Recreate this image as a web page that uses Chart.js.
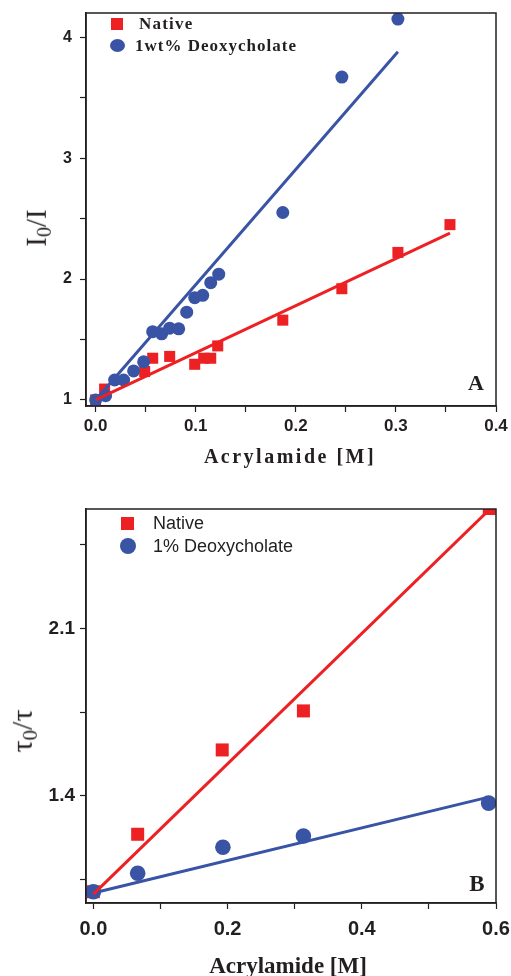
<!DOCTYPE html>
<html>
<head>
<meta charset="utf-8">
<script src="https://cdn.jsdelivr.net/npm/chart.js@4.4.0/dist/chart.umd.min.js"></script>
<style>
  html, body { margin: 0; padding: 0; background: #fff; }
  #wrap { position: relative; width: 511px; height: 976px; overflow: hidden; }
  canvas { position: absolute; left: 0; }
  .txt { position: absolute; white-space: nowrap; line-height: 1; color: #231f20; }
  .c { transform: translate(-50%, -50%); }
  .rot { transform: translate(-50%, -50%) rotate(-90deg); }
  .serif { font-family: "Liberation Serif", "DejaVu Serif", serif; }
  .sans { font-family: "Liberation Sans", Arial, sans-serif; }
  .mk { position: absolute; }
  sub { font-size: 70%; vertical-align: -0.25em; }
</style>
</head>
<body>
<div id="wrap">
  <canvas id="chartA" width="511" height="490" style="top:0"></canvas>
  <canvas id="chartB" width="511" height="486" style="top:490px"></canvas>

  <!-- panel A texts -->
  <div class="mk" style="left:111px;top:18px;width:12px;height:12px;background:#ed2024"></div>
  <div class="txt serif" style="left:139px;top:15px;font-size:17px;font-weight:bold;letter-spacing:1.2px">Native</div>
  <div class="mk" style="left:110px;top:39px;width:15px;height:13px;border-radius:50%;background:#3953a5"></div>
  <div class="txt serif" style="left:135px;top:37px;font-size:17px;font-weight:bold;letter-spacing:1px">1wt% Deoxycholate</div>
  <div class="txt serif rot" style="left:38px;top:228px;font-size:29px">I<sub>0</sub>/I</div>
  <div class="txt serif c" style="left:290px;top:456px;font-size:20px;font-weight:bold;letter-spacing:2.5px">Acrylamide [M]</div>
  <div class="txt serif c" style="left:476px;top:383px;font-size:22px;font-weight:bold">A</div>

  <!-- panel B texts -->
  <div class="mk" style="left:121px;top:517px;width:13px;height:13px;background:#ed2024"></div>
  <div class="txt sans" style="left:153px;top:514px;font-size:18px">Native</div>
  <div class="mk" style="left:120px;top:538px;width:16px;height:16px;border-radius:50%;background:#3953a5"></div>
  <div class="txt sans" style="left:153px;top:537px;font-size:18px">1% Deoxycholate</div>
  <div class="txt serif rot" style="left:24px;top:731px;font-size:30px">&tau;<sub>0</sub>/&tau;</div>
  <div class="txt serif c" style="left:288px;top:965px;font-size:23px;font-weight:bold">Acrylamide [M]</div>
  <div class="txt serif c" style="left:477px;top:883px;font-size:23px;font-weight:bold">B</div>
</div>

<script>
// ---- Panel A: I0/I vs acrylamide ----
const nativeXA = [0, 0.009, 0.049, 0.057, 0.074, 0.099, 0.108, 0.115, 0.122, 0.187, 0.246, 0.302, 0.354];
const nativeYA = [1.0, 1.09, 1.235, 1.345, 1.36, 1.295, 1.345, 1.345, 1.447, 1.66, 1.92, 2.22, 2.45];
const deoxyXA = [0, 0.01, 0.019, 0.028, 0.038, 0.048, 0.057, 0.066, 0.074, 0.083, 0.091, 0.099, 0.107, 0.115, 0.123, 0.187, 0.246, 0.302];
const deoxyYA = [1.0, 1.035, 1.165, 1.165, 1.24, 1.315, 1.565, 1.547, 1.594, 1.588, 1.726, 1.846, 1.865, 1.97, 2.04, 2.55, 3.67, 4.15];
const nativeFitXA = [0, 0.354];
const nativeFitYA = [1.0, 2.38];
const deoxyFitXA = [0, 0.302];
const deoxyFitYA = [1.0, 3.88];
const xTicksA = [0, 0.05, 0.1, 0.15, 0.2, 0.25, 0.3, 0.35, 0.4];
const xLabelsA = ['0.0', '', '0.1', '', '0.2', '', '0.3', '', '0.4'];
const yTicksA = [1, 1.5, 2, 2.5, 3, 3.5, 4];
const yLabelsA = ['1', '', '2', '', '3', '', '4'];

// ---- Panel B: tau0/tau vs acrylamide ----
const nativeXB = [0, 0.066, 0.192, 0.313, 0.59];
const nativeYB = [1.0, 1.24, 1.592, 1.755, 2.6];
const deoxyXB = [0, 0.066, 0.193, 0.313, 0.589];
const deoxyYB = [1.0, 1.077, 1.186, 1.233, 1.37];
const nativeFitXB = [0, 0.59];
const nativeFitYB = [0.99, 2.595];
const deoxyFitXB = [0, 0.589];
const deoxyFitYB = [0.995, 1.395];
const xTicksB = [0, 0.1, 0.2, 0.3, 0.4, 0.5, 0.6];
const xLabelsB = ['0.0', '', '0.2', '', '0.4', '', '0.6'];
const yTicksB = [1.05, 1.4, 1.75, 2.1, 2.45];
const yLabelsB = ['', '1.4', '', '2.1', ''];

const RED = '#ed2024';
const BLUE = '#3953a5';
const AXIS = '#231f20';

function pts(xs, ys) {
  return xs.map((x, i) => ({ x: x, y: ys[i] }));
}

// box around the plot area
const framePlugin = {
  id: 'frame',
  afterDraw(chart) {
    const a = chart.chartArea;
    const ctx = chart.ctx;
    ctx.save();
    ctx.strokeStyle = AXIS;
    ctx.lineWidth = 1.5;
    ctx.strokeRect(a.left, a.top, a.right - a.left, a.bottom - a.top);
    ctx.restore();
  }
};

function axis(min, max, tickVals, tickLabels, fontSize, pad, fitSize, horizontal) {
  return {
    type: 'linear',
    min: min,
    max: max,
    afterBuildTicks: scale => { scale.ticks = tickVals.map(v => ({ value: v })); },
    afterFit: scale => {
      if (horizontal) { scale.height = fitSize; scale.paddingLeft = 0; scale.paddingRight = 0; }
      else { scale.width = fitSize; scale.paddingTop = 0; scale.paddingBottom = 0; }
    },
    ticks: {
      autoSkip: false,
      maxRotation: 0,
      padding: pad,
      color: AXIS,
      font: { family: '"Liberation Sans", Arial, sans-serif', size: fontSize, weight: 'bold' },
      callback: (value, index) => tickLabels[index]
    },
    grid: {
      display: true,
      drawOnChartArea: false,
      drawTicks: true,
      tickLength: 6,
      tickWidth: 1.2,
      tickColor: AXIS
    },
    border: { display: true, color: AXIS, width: 1.5 }
  };
}

function makeChart(id, p) {
  const ctx = document.getElementById(id).getContext('2d');
  return new Chart(ctx, {
    type: 'scatter',
    data: {
      datasets: [
        { data: pts(p.nFitX, p.nFitY), showLine: true, borderColor: RED, borderWidth: 3, pointRadius: 0, order: 0 },
        { data: pts(p.dX, p.dY), pointStyle: 'circle', pointRadius: p.circleR, backgroundColor: BLUE, borderWidth: 0, order: 1 },
        { data: pts(p.dFitX, p.dFitY), showLine: true, borderColor: BLUE, borderWidth: 3, pointRadius: 0, order: 2 },
        { data: pts(p.nX, p.nY), pointStyle: 'rect', pointRadius: p.rectR, backgroundColor: RED, borderWidth: 0, order: 3 }
      ]
    },
    options: {
      responsive: false,
      animation: false,
      devicePixelRatio: 1,
      layout: { padding: { top: p.top, right: 15, left: 0, bottom: 0 } },
      plugins: { legend: { display: false }, tooltip: { enabled: false } },
      scales: {
        x: axis(p.xMin, p.xMax, p.xTicks, p.xLabels, p.xFont, p.xPad, p.xFit, true),
        y: axis(p.yMin, p.yMax, p.yTicks, p.yLabels, p.yFont, p.yPad, 86, false)
      }
    },
    plugins: [framePlugin]
  });
}

makeChart('chartA', {
  nX: nativeXA, nY: nativeYA, dX: deoxyXA, dY: deoxyYA,
  nFitX: nativeFitXA, nFitY: nativeFitYA, dFitX: deoxyFitXA, dFitY: deoxyFitYA,
  xTicks: xTicksA, xLabels: xLabelsA, yTicks: yTicksA, yLabels: yLabelsA,
  xMin: -0.0096, xMax: 0.4, yMin: 0.95, yMax: 4.2,
  circleR: 6.5, rectR: 7.8, top: 13, xFit: 84,
  xFont: 17, yFont: 16, xPad: 4, yPad: 8
});

makeChart('chartB', {
  nX: nativeXB, nY: nativeYB, dX: deoxyXB, dY: deoxyYB,
  nFitX: nativeFitXB, nFitY: nativeFitYB, dFitX: deoxyFitXB, dFitY: deoxyFitYB,
  xTicks: xTicksB, xLabels: xLabelsB, yTicks: yTicksB, yLabels: yLabelsB,
  xMin: -0.011, xMax: 0.6, yMin: 0.953, yMax: 2.598,
  circleR: 7.8, rectR: 9.2, top: 19, xFit: 73,
  xFont: 20, yFont: 19, xPad: 8, yPad: 5
});
</script>
</body>
</html>
